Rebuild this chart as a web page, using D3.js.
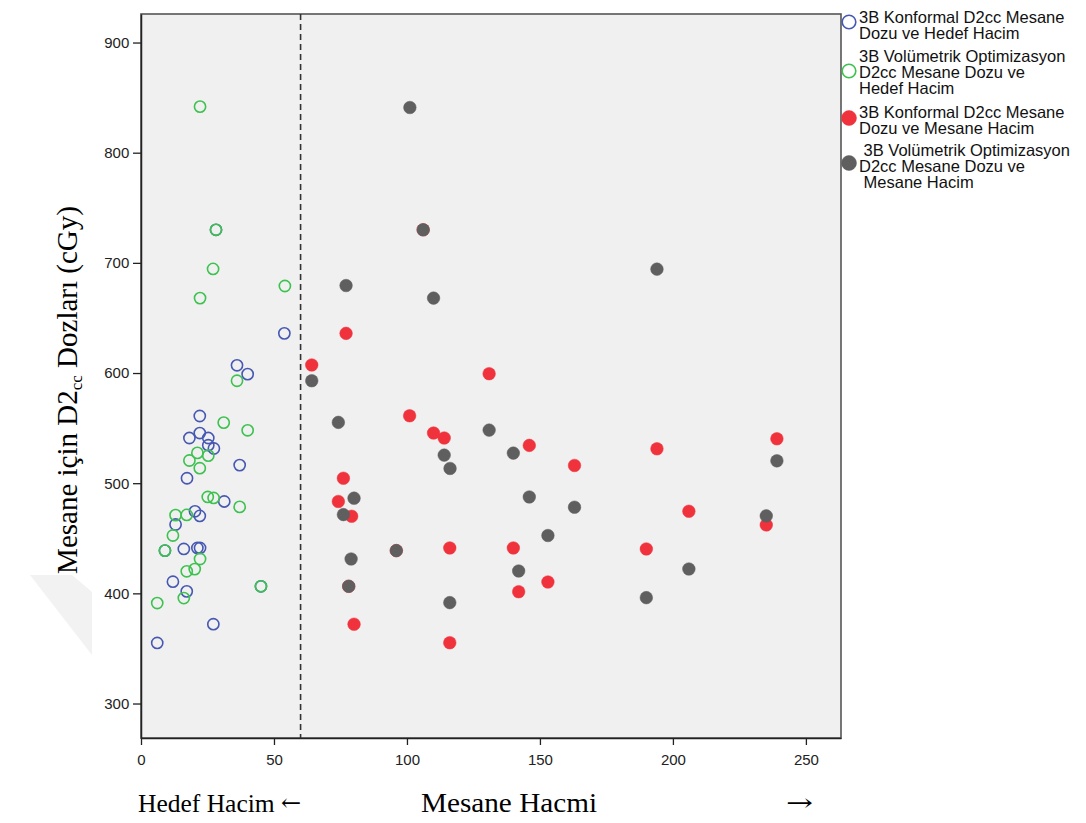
<!DOCTYPE html>
<html>
<head>
<meta charset="utf-8">
<script src="https://cdnjs.cloudflare.com/ajax/libs/d3/7.8.5/d3.min.js"></script>
<style>
  body { margin: 0; background: #fff; }
  svg { display: block; }
</style>
</head>
<body>
<svg id="chart" width="1086" height="823"></svg>
<script>
// values
const konfHedefX = [53.9, 36.1, 40.1, 22.1, 22.1, 18.2, 25.3, 25.3, 27.4, 37.1, 17.3, 31.3, 20.3, 22.1, 13.0, 9.0, 16.1, 21.2, 22.2, 12.0, 45.1, 17.2, 27.2, 6.1, 28.2];
const konfHedefY = [636, 607, 599, 561, 545.5, 541, 541, 534.5, 531.5, 516.4, 504.5, 483.4, 474.5, 470.3, 462.5, 438.8, 440.3, 441.2, 441.2, 410.6, 406.4, 401.8, 372, 355, 730];

const volHedefX = [22.2, 28.2, 27.1, 54.1, 22.2, 36.1, 31.1, 40.1, 21.2, 25.3, 18.2, 22.1, 25.1, 27.3, 37.1, 13.0, 17.2, 12.0, 9.0, 22.2, 20.2, 17.2, 45.1, 16.1, 6.1];
const volHedefY = [841.8, 730, 694.5, 679, 668, 593, 555, 548, 527.5, 525, 520.6, 513.6, 487.5, 486.6, 478.5, 471, 471.2, 452.5, 438.8, 431.2, 422, 420, 406.4, 395.7, 391.2];

const konfMesaneX = [77.1, 64.2, 130.9, 101, 110, 114, 146, 76.1, 74.2, 79.2, 96, 116.1, 140, 153, 78.1, 142, 80.1, 116.1, 239.1, 194, 163, 206, 235.1, 190, 106.1];
const konfMesaneY = [636, 607.3, 599.4, 561.2, 545.5, 541, 534.3, 504.5, 483.4, 470, 438.8, 441.2, 441.2, 410.3, 406.4, 401.5, 372, 355.2, 540.3, 531.2, 516.1, 474.5, 462.1, 440.3, 730];

const volMesaneX = [101.1, 106.1, 77.1, 110, 64.2, 74.2, 130.9, 140, 114, 116.2, 80.1, 76.1, 146, 153, 96, 79, 142, 78.1, 116.1, 194, 239.1, 163, 235.1, 206, 190];
const volMesaneY = [841, 730, 679.4, 668, 593, 555.2, 548.2, 527.3, 525.5, 513.4, 486.4, 471.5, 487.5, 452.5, 438.8, 431.2, 420.3, 406.4, 391.6, 694.3, 520.3, 478.2, 470.3, 422.1, 396.1];

const xTicks = [0, 50, 100, 150, 200, 250];
const yTicks = [300, 400, 500, 600, 700, 800, 900];
const cutoff = 60; // dashed line between hedef / mesane volumes

const legendLabels = [
  ['3B Konformal D2cc Mesane', 'Dozu ve Hedef Hacim'],
  ['3B Volümetrik Optimizasyon', 'D2cc Mesane Dozu ve', 'Hedef Hacim'],
  ['3B Konformal D2cc Mesane', 'Dozu ve Mesane Hacim'],
  [' 3B Volümetrik Optimizasyon', 'D2cc Mesane Dozu ve', ' Mesane Hacim']
];

const series = [
  { xs: konfHedefX, ys: konfHedefY, color: '#4658b2', filled: false },
  { xs: volHedefX, ys: volHedefY, color: '#3cc24e', filled: false },
  { xs: konfMesaneX, ys: konfMesaneY, color: '#f0323c', filled: true },
  { xs: volMesaneX, ys: volMesaneY, color: '#5f5f5f', filled: true }
];

const svg = d3.select('#chart');
const margin = { top: 14, left: 141, right: 245, bottom: 85 };
const width = +svg.attr('width');
const height = +svg.attr('height');
const innerW = width - margin.left - margin.right;
const innerH = height - margin.top - margin.bottom;

const xScale = d3.scaleLinear().domain([0, 263.2]).range([0, innerW]);
const yScale = d3.scaleLinear().domain([268.7, 925.9]).range([innerH, 0]);

// faint watermark on the left
svg.append('polygon')
  .attr('points', '30,575 72,575 92,592 92,655')
  .attr('fill', '#f2f2f2');

const g = svg.append('g')
  .attr('transform', `translate(${margin.left},${margin.top})`);

g.append('rect')
  .attr('width', innerW)
  .attr('height', innerH)
  .attr('fill', '#f0f0f0')
  .attr('stroke', '#555')
  .attr('stroke-width', 1.6);

const xAxis = d3.axisBottom(xScale).tickValues(xTicks).tickSize(7).tickSizeOuter(0);
const yAxis = d3.axisLeft(yScale).tickValues(yTicks).tickSize(8).tickSizeOuter(0);

const gx = g.append('g').attr('transform', `translate(0,${innerH})`).call(xAxis);
const gy = g.append('g').call(yAxis);

[gx, gy].forEach(a => {
  a.selectAll('path.domain').attr('stroke', '#222').attr('stroke-width', 1.5);
  a.selectAll('line').attr('stroke', '#222').attr('stroke-width', 1.3);
  a.selectAll('text')
    .attr('fill', '#222')
    .attr('font-size', 15)
    .attr('font-family', 'Liberation Sans, Arial, sans-serif');
});
gx.selectAll('text').attr('dy', '1.15em');
gy.selectAll('text').attr('dx', '-0.05em');

g.append('line')
  .attr('x1', xScale(cutoff)).attr('x2', xScale(cutoff))
  .attr('y1', 0).attr('y2', innerH)
  .attr('stroke', '#333')
  .attr('stroke-width', 1.6)
  .attr('stroke-dasharray', '6,4');

series.forEach(s => {
  g.append('g').selectAll('circle')
    .data(s.xs.map((x, i) => ({ x: x, y: s.ys[i] })))
    .enter().append('circle')
    .attr('cx', d => xScale(d.x))
    .attr('cy', d => yScale(d.y))
    .attr('r', s.filled ? 6.3 : 5.6)
    .attr('fill', s.filled ? s.color : 'none')
    .attr('stroke', s.color)
    .attr('stroke-width', s.filled ? 0.5 : 1.6);
});

// legend
const legendTop = [22, 71, 118, 163];
const lineStart = [17, 56, 112, 150];
const legend = svg.append('g').attr('font-family', 'Liberation Sans, Arial, sans-serif').attr('font-size', 16.5).attr('fill', '#111');
series.forEach((s, i) => {
  legend.append('circle')
    .attr('cx', 849).attr('cy', legendTop[i])
    .attr('r', s.filled ? 7.5 : 6.8)
    .attr('fill', s.filled ? s.color : 'none')
    .attr('stroke', s.color)
    .attr('stroke-width', s.filled ? 0.5 : 1.6);
  legendLabels[i].forEach((t, j) => {
    legend.append('text')
      .attr('x', 859)
      .attr('y', lineStart[i] + 5.5 + j * 16.4)
      .attr('xml:space', 'preserve')
      .style('white-space', 'pre')
      .text(t);
  });
});

// axis titles
const serif = 'Liberation Serif, Times New Roman, serif';
const yLab = svg.append('text')
  .attr('transform', 'translate(77,390) rotate(-90)')
  .attr('text-anchor', 'middle')
  .attr('font-family', serif)
  .attr('font-size', 29)
  .attr('fill', '#000');
yLab.append('tspan').text('Mesane için D2');
yLab.append('tspan').attr('font-size', 17).attr('dy', 5).text('cc');
yLab.append('tspan').attr('dy', -5).text(' Dozları (cGy)');

const xLab = svg.append('g')
  .attr('font-family', serif)
  .attr('fill', '#000');
const leftLab = xLab.append('text').attr('x', 138).attr('y', 812).attr('font-size', 25.5);
leftLab.append('tspan').text('Hedef Hacim ');
leftLab.append('tspan').attr('font-family', 'DejaVu Serif, serif').attr('font-size', 24).attr('dy', -1).text('←');
xLab.append('text').attr('x', 421).attr('y', 812).attr('font-size', 27)
  .attr('textLength', 176).attr('lengthAdjust', 'spacingAndGlyphs').text('Mesane Hacmi');
xLab.append('text').attr('x', 786).attr('y', 811)
  .attr('font-family', 'DejaVu Serif, serif').attr('font-size', 24)
  .attr('textLength', 27).attr('lengthAdjust', 'spacingAndGlyphs').text('→');
</script>
</body>
</html>
